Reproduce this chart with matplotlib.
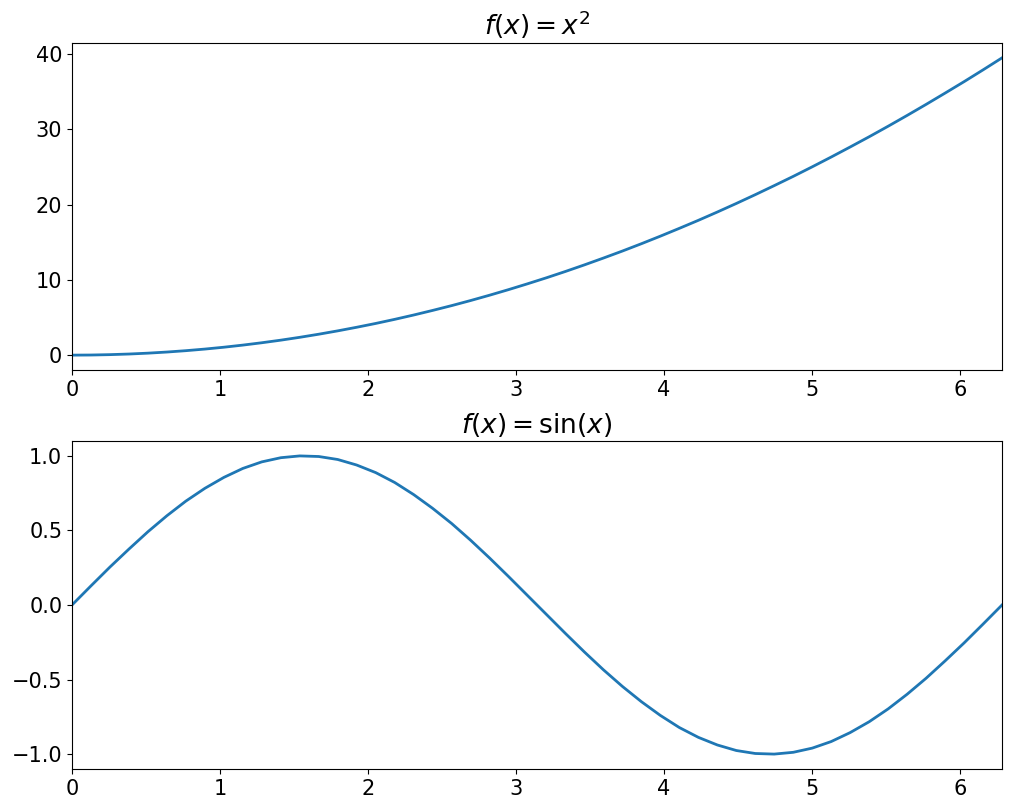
import matplotlib
matplotlib.use("Agg")
import matplotlib.pyplot as plt

x = [0.000, 0.128, 0.256, 0.385, 0.513, 0.641, 0.769, 0.898, 1.026, 1.154,
     1.282, 1.411, 1.539, 1.667, 1.795, 1.923, 2.052, 2.180, 2.308, 2.436,
     2.565, 2.693, 2.821, 2.949, 3.077, 3.206, 3.334, 3.462, 3.590, 3.719,
     3.847, 3.975, 4.103, 4.232, 4.360, 4.488, 4.616, 4.744, 4.873, 5.001,
     5.129, 5.257, 5.386, 5.514, 5.642, 5.770, 5.898, 6.027, 6.155, 6.283]

y_square = [0.000, 0.016, 0.066, 0.148, 0.263, 0.411, 0.592, 0.806, 1.052, 1.332,
            1.644, 1.990, 2.368, 2.779, 3.223, 3.700, 4.209, 4.752, 5.327, 5.936,
            6.577, 7.251, 7.958, 8.698, 9.471, 10.277, 11.115, 11.987, 12.891, 13.828,
            14.798, 15.801, 16.837, 17.906, 19.008, 20.142, 21.309, 22.510, 23.743, 25.009,
            26.308, 27.640, 29.005, 30.402, 31.833, 33.296, 34.792, 36.321, 37.884, 39.478]

y_sin = [0.000, 0.128, 0.254, 0.375, 0.491, 0.598, 0.696, 0.782, 0.855, 0.915,
         0.959, 0.987, 0.999, 0.995, 0.975, 0.938, 0.887, 0.821, 0.740, 0.648,
         0.546, 0.434, 0.315, 0.191, 0.064, -0.064, -0.191, -0.315, -0.434, -0.546,
         -0.648, -0.740, -0.821, -0.887, -0.938, -0.975, -0.995, -0.999, -0.987, -0.959,
         -0.915, -0.855, -0.782, -0.696, -0.598, -0.491, -0.375, -0.254, -0.128, 0.000]

titles = [r"$f(x) = x^2$", r"$f(x) = \sin(x)$"]

fig = plt.figure(figsize=(10.11, 8.11), dpi=100)
ax1 = fig.add_axes([72/1011, 1-370/811, 930/1011, 327/811])
ax2 = fig.add_axes([72/1011, 1-769/811, 930/1011, 328/811])

for ax, y, t in [(ax1, y_square, titles[0]), (ax2, y_sin, titles[1])]:
    ax.plot(x, y, color="#1f77b4", linewidth=2)
    ax.set_xlim(0, x[-1])
    ax.set_title(t, fontsize=19)
    ax.tick_params(labelsize=15)

fig.savefig("out.png", dpi=100)
